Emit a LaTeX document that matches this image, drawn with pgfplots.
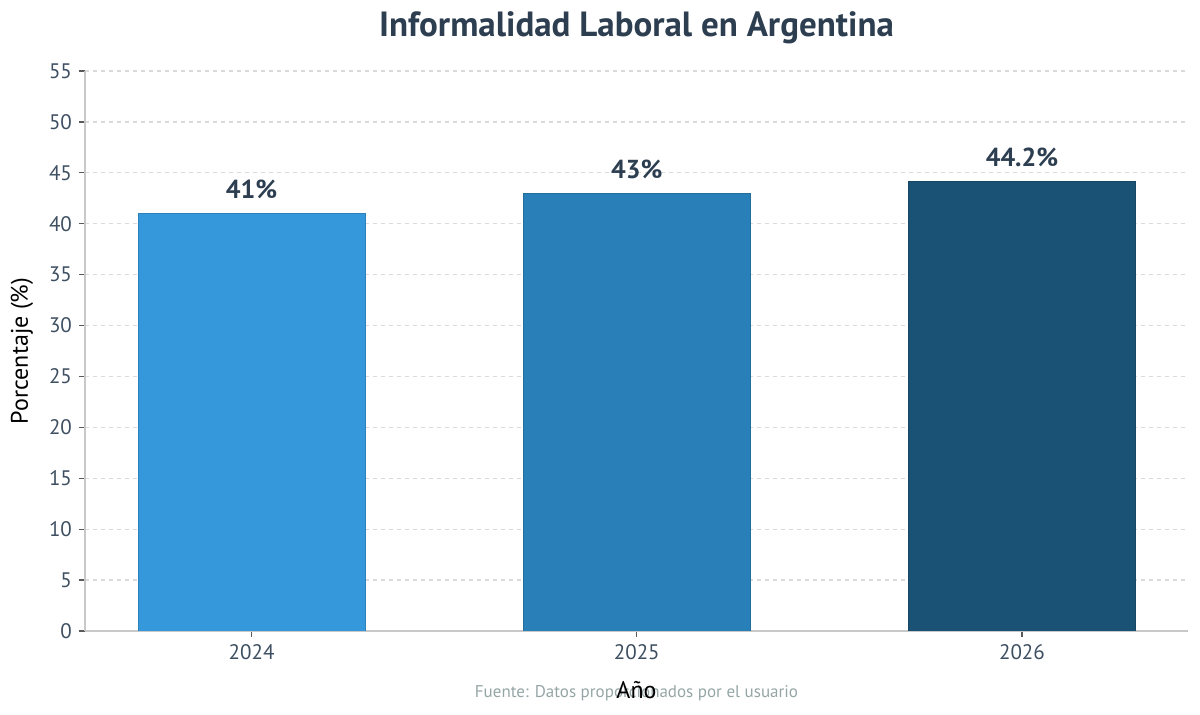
\documentclass[border=0pt]{standalone}
\usepackage{pgfplots}
\pgfplotsset{compat=1.18}
\usepackage{fontspec}
\setmainfont{PT Sans}
\definecolor{c1}{HTML}{3498DB}
\definecolor{c2}{HTML}{2980B9}
\definecolor{c3}{HTML}{1A5276}
\definecolor{titlec}{HTML}{2C3E50}
\definecolor{tickc}{HTML}{3D4F61}
\definecolor{gridc}{HTML}{DADADA}
\definecolor{axc}{HTML}{C8C8C8}
\definecolor{footc}{HTML}{95A5A6}
\begin{document}
\begin{tikzpicture}
\useasboundingbox (-42.5pt,-42pt) rectangle (557.5pt,315.5pt);
\begin{axis}[
  at={(0,0)}, anchor=south west,
  scale only axis, width=551.5pt, height=280pt,
  xmin=-0.4325, xmax=2.431, ymin=0, ymax=55,
  xtick={0,1,2}, xticklabels={2024,2025,2026},
  ytick={0,5,...,55},
  axis x line*=bottom, axis y line*=left,
  x axis line style={-, axc, line width=1pt},
  y axis line style={-, axc, line width=0.8pt},
  tick align=outside, major tick length=3pt,
  tick style={color=black!65, line width=0.6pt},
  /pgf/number format/assume math mode=true,
  ticklabel style={font=\fontsize{10.5}{12}\selectfont, color=tickc},
  ymajorgrids, grid style={gridc, dash pattern=on 2pt off 2pt, line width=0.6pt},
  ybar, bar width=113.5pt, bar shift=0pt,
  point meta=explicit symbolic,
  nodes near coords,
  nodes near coords style={font=\bfseries\fontsize{13}{16}\selectfont, color=titlec, anchor=south, inner sep=0pt, yshift=7pt},
]
\addplot[fill=c1, draw=c1!85!black, line width=0.4pt] coordinates {(0,41) [41\%]};
\addplot[fill=c2, draw=c2!85!black, line width=0.4pt] coordinates {(1,43) [43\%]};
\addplot[fill=c3, draw=c3!85!black, line width=0.4pt] coordinates {(2,44.2) [44.2\%]};
\end{axis}
\node[font=\bfseries\fontsize{17.5}{20}\selectfont, color=titlec, anchor=center] at (275.75pt,301.5pt) {Informalidad Laboral en Argentina};
\node[font=\fontsize{12}{14}\selectfont, color=black, anchor=center, rotate=90] at (-31.5pt,140pt) {Porcentaje (\%)};
\node[font=\fontsize{8.5}{10}\selectfont, color=footc, anchor=center] at (275.75pt,-31pt) {Fuente: Datos proporcionados por el usuario};
\node[font=\fontsize{12}{14}\selectfont, color=black, anchor=center] at (275.75pt,-29.5pt) {Año};
\end{tikzpicture}
\end{document}
